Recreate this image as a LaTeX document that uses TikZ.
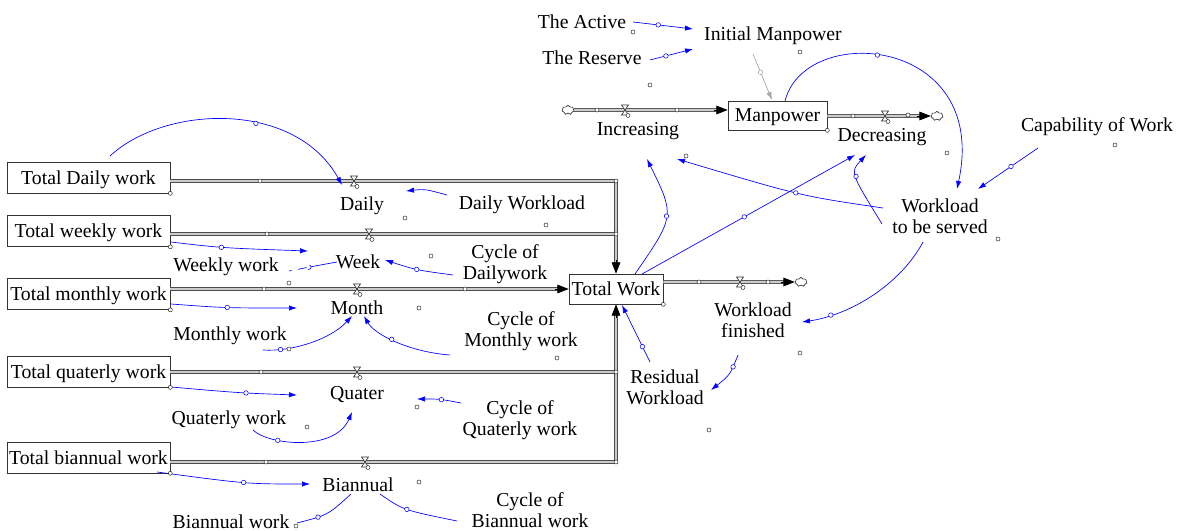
\documentclass[tikz,border=0pt]{standalone}
\usepackage{fontspec}
\setmainfont{Liberation Serif}
\usetikzlibrary{arrows.meta,shapes.symbols,calc}
\definecolor{lnk}{RGB}{0,0,255}
\tikzset{
  stockbox/.style={draw=black!80,line width=0.5pt,inner sep=0pt,minimum height=23.25pt,minimum width=122.25pt,text depth=0pt},
  lbl/.style={inner sep=0pt,align=center,yshift=-1.5pt},
  pipe/.style={draw=black!70,line width=0.5pt,double=black!20,double distance=1.7pt},
  parrow/.style={draw=black,line width=0.6pt,-{Triangle[length=8.5pt,width=6.5pt]}},
  link/.style={draw=lnk,line width=0.5pt,-{Latex[length=6pt,width=4pt]}},
  glink/.style={draw=black!35,line width=0.5pt,-{Latex[length=6pt,width=4pt]}},
  plainlink/.style={draw=lnk,line width=0.5pt},
  hd/.style={circle,draw=lnk,fill=white,line width=0.4pt,inner sep=0pt,minimum size=3.4pt},
  ghd/.style={circle,draw=black!35,fill=white,line width=0.4pt,inner sep=0pt,minimum size=3.4pt},
  bh/.style={draw=black!80,fill=white,line width=0.4pt},
  cloudnode/.style={cloud,cloud puffs=7,aspect=1.3,draw=black!80,fill=white,line width=0.5pt,inner sep=0pt,minimum width=9pt,minimum height=7pt},
  valve/.pic={
    \draw[black!80,line width=0.5pt,fill=white] (-3.5,-5)--(3.5,-5)--(-3.5,5)--(3.5,5)--cycle;
    \draw[black!80,line width=0.4pt,fill=white] (3,5.5) circle[radius=1.5pt];
  }
}
\begin{document}
\begin{tikzpicture}[x=0.75pt,y=-0.75pt,font=\fontsize{14.8pt}{15.8pt}\selectfont]
\useasboundingbox (0,0) rectangle (1184,531);
% stocks
\node[stockbox] (sd) at (88.5,177.5) {Total Daily work};
\node[stockbox] (sw) at (88.5,231) {Total weekly work};
\node[stockbox] (sm) at (88.5,294) {Total monthly work};
\node[stockbox] (sq) at (88.5,371.5) {Total quaterly work};
\node[stockbox] (sb) at (88.5,457.5) {Total biannual work};
\node[stockbox,minimum width=70.5pt,minimum height=22.5pt] (tw) at (616,289) {Total Work};
\node[stockbox,minimum width=74.25pt,minimum height=21.75pt] (mp) at (777.5,115.5) {Manpower};
% valves and corners
\coordinate (vd) at (354,181);
\coordinate (vw) at (369,234);
\coordinate (vm) at (357,289);
\coordinate (vq) at (357,372);
\coordinate (vb) at (365,462);
\coordinate (vi) at (625,110);
\coordinate (vde) at (885,116);
\coordinate (vwf) at (740,282);
\coordinate (cD) at (616,181);
\coordinate (cW) at (616,234);
\coordinate (cQ) at (616,372);
\coordinate (cB) at (616,462);
\node[cloudnode] (ci) at (568,110) {};
\node[cloudnode] (cde) at (937,116) {};
\node[cloudnode] (cwf) at (801,282) {};
% pipes
\draw[pipe] (sw.east |- vw) -- (cW);
\draw[pipe] (sd.east |- vd) -- (cD) -- ($(tw.north)+(0,-10)$);
\draw[parrow] ($(tw.north)+(0,-14)$) -- (tw.north);
\draw[pipe] (sm.east |- vm) -- ($(tw.west)+(-10,0)$);
\draw[parrow] ($(tw.west)+(-14,0)$) -- (tw.west);
\draw[pipe] (sb.east |- vb) -- (cB) -- (cQ);
\draw[pipe] (sq.east |- vq) -- (cQ) -- ($(tw.south)+(0,10)$);
\draw[parrow] ($(tw.south)+(0,14)$) -- (tw.south);
\draw[pipe] (ci.east) -- ($(mp.west |- vi)+(-10,0)$);
\draw[parrow] ($(mp.west |- vi)+(-14,0)$) -- (mp.west |- vi);
\draw[pipe] (mp.east |- vde) -- ($(cde.west)+(-10,0)$);
\draw[parrow] ($(cde.west)+(-14,0)$) -- (cde.west);
\draw[pipe] (tw.east |- vwf) -- ($(cwf.west)+(-10,0)$);
\draw[parrow] ($(cwf.west)+(-14,0)$) -- (cwf.west);
\foreach \v in {vd,vw,vm,vq,vb,vi,vde,vwf} \pic at (\v) {valve};
% labels
\node[lbl] (dly) at (362,204) {Daily};
\node[lbl] (wk) at (358,260) {Week};
\node[lbl] (mth) at (357,306) {Month};
\node[lbl] (qtr) at (357,393) {Quater};
\node[lbl] (bia) at (358,483) {Biannual};
\node[lbl] (dwl) at (522,203) {Daily Workload};
\node[lbl] (cdw) at (505,262) {Cycle of\\Dailywork};
\node[lbl] (cmw) at (521,329) {Cycle of\\Monthly work};
\node[lbl] (cqw) at (520,418) {Cycle of\\Quaterly work};
\node[lbl] (cbw) at (530,508.5) {Cycle of\\Biannual work};
\node[lbl] (wkw) at (226,265) {Weekly work};
\node[lbl] (mw) at (230,334) {Monthly work};
\node[lbl] (qw) at (229,418) {Quaterly work};
\node[lbl] (bw) at (231,520) {Biannual work};
\node[lbl] (act) at (582,20) {The Active};
\node[lbl] (res) at (592,56) {The Reserve};
\node[lbl] (imp) at (773,34) {Initial Manpower};
\node[lbl] (inc) at (638,129) {Increasing};
\node[lbl] (dec) at (882,135) {Decreasing};
\node[lbl] (cap) at (1097,125) {Capability of Work};
\node[lbl] (wtbs) at (940,214) {Workload\\to be served};
\node[lbl] (wf) at (753,318) {Workload\\finished};
\node[lbl] (rw) at (665,385) {Residual\\Workload};
% links
\draw[link] ($(sd)+(21.5,-21.5)$) .. controls (165,105) and (295,100) .. ($(vd)+(-12,4)$) node[pos=0.6,hd] (h1) {};
\draw[link] ($(dwl)+(-75,-10)$) .. controls (425,189) .. ($(dly)+(44,-15)$);
\draw[link] ($(sw)+(82.5,11)$) .. controls (222,248) .. ($(wk)+(-50,-11)$) node[pos=0.45,hd] (h3) {};
\draw[plainlink,dash pattern=on 2pt off 5pt on 100pt] ($(wkw)+(63,4)$) .. controls (315,266) .. ($(wk)+(-21,0)$) node[pos=0.35,hd] (h4) {};
\draw[link] ($(cdw)+(-52,11)$) .. controls (416,270) .. ($(wk)+(27,-2)$) node[pos=0.5,hd] (h5) {};
\draw[link] ($(sm)+(82.5,10)$) .. controls (225,308) .. ($(mth)+(-60,0)$) node[pos=0.5,hd] (h6) {};
\draw[link] ($(mw)+(33,14)$) .. controls (290,352) and (330,340) .. ($(mth)+(-5,8)$) node[pos=0.2,hd] (h7) {};
\draw[link] ($(cmw)+(-71,24)$) .. controls (410,352) and (375,335) .. ($(mth)+(7,8)$) node[pos=0.55,hd] (h8) {};
\draw[link] ($(sq)+(82.5,15.5)$) .. controls (240,393) .. ($(qtr)+(-60,0)$) node[pos=0.58,hd] (h9) {};
\draw[link] ($(qw)+(24,10)$) .. controls (268,445) and (335,452) .. ($(qtr)+(-5,17)$) node[pos=0.3,hd] (h10) {};
\draw[link] ($(cqw)+(-59,-17)$) .. controls (440,399) .. ($(qtr)+(60,4)$) node[pos=0.45,hd] (h11) {};
\draw[link] ($(sb)+(68.5,14.5)$) .. controls (247,484) .. ($(bia)+(-48,-1)$) node[pos=0.5,hd] (h12) {};
\draw[plainlink] ($(bw)+(66,1)$) .. controls (328,515) .. ($(bia)+(-7,9)$) node[pos=0.3,hd] (h13) {};
\draw[plainlink] ($(cbw)+(-73,10.5)$) .. controls (403,510) .. ($(bia)+(22,9)$) node[pos=0.5,hd] (h14) {};
\draw[link] ($(act)+(51,0)$) -- ($(imp)+(-80,-7)$) node[pos=0.42,hd] (h15) {};
\draw[link] ($(res)+(58,2)$) -- ($(imp)+(-80,13)$) node[pos=0.37,hd] (h16) {};
\draw[glink] ($(imp)+(-20,18)$) -- ($(mp)+(-5.5,-15.5)$) node[pos=0.4,ghd] (h17) {};
\draw[link] ($(mp)+(7.5,-14.5)$) .. controls (805,22) and (990,36) .. ($(wtbs)+(17,-27)$) node[pos=0.45,hd] (h18) {};
\draw[link] ($(cap)+(-59,21)$) -- ($(wtbs)+(38,-27)$) node[pos=0.45,hd] (h19) {};
\draw[link] ($(wtbs)+(-57,-8)$) .. controls (801,196) .. ($(inc)+(39,28)$) node[pos=0.5,hd] (h20) {};
\draw[link] ($(wtbs)+(-58,8)$) .. controls (850,172) .. ($(dec)+(-16,18)$) node[pos=0.5,hd] (h21) {};
\draw[link] ($(tw)+(26,-15)$) -- ($(dec)+(-27,18)$) node[pos=0.48,hd] (h22) {};
\draw[link] ($(tw)+(19,-15)$) .. controls (675,216) .. ($(inc)+(9,28)$) node[pos=0.5,hd] (h23) {};
\draw[link] ($(wtbs)+(-17,26)$) .. controls (900,285) and (850,315) .. ($(wf)+(49,2)$) node[pos=0.8,hd] (h24) {};
\draw[link] ($(wf)+(-15,35)$) .. controls (730,375) .. ($(rw)+(46,3)$) node[pos=0.25,hd] (h25) {};
\draw[link] ($(rw)+(-15,-25)$) -- ($(tw)+(6,16)$) node[pos=0.27,hd] (h26) {};
% small handles
\foreach \s in {sd,sw,sm,sq,sb,tw,mp} \draw[bh] (\s.south east) circle[radius=1.5pt];
\foreach \p in {(260,181),(267,234),(264,289),(465,289),(261,372),(266,462),(597,110),(677,110),(853,116),(908,115),(699,282),(768,282),(616,181),(616,234),(616,372),(616,462),
  (405,218),(546,225),(431,256),(289,283),(419,308),(557,358),(289,349),(417,407),(307,427),(419,482),(296,526),(709,430),(800,353),(998,239),(1115,145),(947,153),(650,85),(633,32),(800,52),(686,156)}
  \draw[bh] \p circle[radius=1.5pt];
\end{tikzpicture}
\end{document}
